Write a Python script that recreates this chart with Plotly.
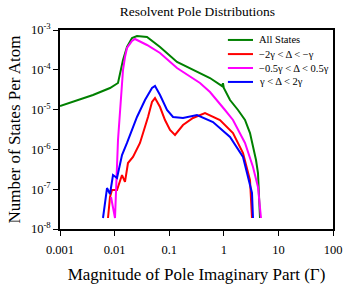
import plotly.graph_objects as go

# All States (green)
green_x = [0.001, 0.00402, 0.00824, 0.01154, 0.01425, 0.01687, 0.02083, 0.0257, 0.0392, 0.0679,
           0.139, 0.273, 0.558, 0.93, 0.966, 1.0, 1.30, 1.82, 2.445, 3.02, 3.426, 3.89, 4.227, 4.41, 4.603]
green_y = [1.23e-5, 2.33e-5, 3.49e-5, 4.66e-5, 1.76e-4, 3.74e-4, 6.29e-4, 7.07e-4, 6.67e-4, 3.74e-4,
           1.57e-4, 9.89e-5, 6.22e-5, 3.9e-5, 4.6e-5, 3.5e-5, 1.74e-5, 9.77e-6, 5.48e-6, 2.58e-6,
           1.15e-6, 5.42e-7, 2.55e-7, 9.55e-8, 1.89e-8]

# -2γ < Δ < -γ (red)
red_x = [0.00757, 0.00824, 0.00896, 0.01107, 0.01367, 0.0155, 0.01758, 0.02172, 0.02917, 0.03606,
         0.04091, 0.04842, 0.05495, 0.06792, 0.08375, 0.1035, 0.1277, 0.179, 0.2729, 0.4529,
         0.8511, 1.473, 2.248, 3.02, 3.283]
red_y = [1.89e-8, 6.37e-8, 9.55e-8, 9.55e-8, 2.27e-7, 1.52e-7, 4.55e-7, 6.44e-7, 1.45e-6, 3.66e-6,
         6.52e-6, 1.55e-5, 1.95e-5, 1.16e-5, 5.48e-6, 3.07e-6, 2.30e-6, 4.10e-6, 6.15e-6, 8.22e-6,
         5.48e-6, 2.58e-6, 8.12e-7, 1.70e-7, 1.89e-8]

# -0.5γ < Δ < 0.5γ (magenta)
mag_x = [0.00859, 0.01017, 0.01154, 0.01367, 0.01425, 0.0155, 0.01687, 0.02083, 0.02364, 0.0392,
         0.0679, 0.139, 0.2729, 0.3664, 0.5585, 0.7499, 1.051, 1.473, 2.445, 3.426, 4.227, 4.80]
mag_y = [6.37e-8, 1.89e-8, 1.72e-6, 3.70e-5, 9.89e-5, 2.10e-4, 3.53e-4, 5.29e-4, 5.94e-4, 4.20e-4,
         2.64e-4, 1.11e-4, 6.22e-5, 4.66e-5, 2.77e-5, 1.74e-5, 9.77e-6, 5.48e-6, 1.45e-6, 3.61e-7,
         1.14e-7, 1.89e-8]

# γ < Δ < 2γ (blue)
blue_x = [0.00613, 0.00726, 0.00824, 0.00935, 0.01107, 0.01367, 0.01687, 0.02083, 0.0257, 0.03606,
          0.04842, 0.05495, 0.06792, 0.0912, 0.1175, 0.179, 0.3228, 0.6339, 1.30, 2.248, 2.775,
          3.283, 3.426]
blue_y = [1.89e-8, 1.07e-7, 7.57e-8, 2.27e-7, 1.91e-7, 7.23e-7, 1.45e-6, 3.07e-6, 6.52e-6, 1.74e-5,
          3.49e-5, 3.92e-5, 2.33e-5, 9.77e-6, 6.52e-6, 6.15e-6, 7.31e-6, 4.88e-6, 2.05e-6, 6.44e-7,
          2.03e-7, 8.03e-8, 1.89e-8]

names = ["All States", "\u22122\u03b3 < \u0394 < \u2212\u03b3",
         "\u22120.5\u03b3 < \u0394 < 0.5\u03b3", "\u03b3 < \u0394 < 2\u03b3"]
colors = ["#008000", "#ff0000", "#ff00ff", "#0000ff"]

x_tickvals = [0.001, 0.01, 0.1, 1, 10, 100]
x_ticktext = ["0.001", "0.01", "0.1", "1", "10", "100"]
y_tickvals = [1e-8, 1e-7, 1e-6, 1e-5, 1e-4, 1e-3]
y_ticktext = ["10<sup>-8</sup>", "10<sup>-7</sup>", "10<sup>-6</sup>", "10<sup>-5</sup>",
              "10<sup>-4</sup>", "10<sup>-3</sup>"]

FAM = "Liberation Serif"

fig = go.Figure()
for xs, ys, nm, c in zip([green_x, red_x, mag_x, blue_x], [green_y, red_y, mag_y, blue_y], names, colors):
    fig.add_trace(go.Scatter(x=xs, y=ys, mode="lines", name=nm, showlegend=False,
                             line=dict(color=c, width=2)))

# compact legend (paper coordinates)
leg_rows = [0.950, 0.879, 0.809, 0.739]
for nm, c, yy in zip(names, colors, leg_rows):
    fig.add_shape(type="line", xref="paper", yref="paper", x0=0.615, x1=0.707, y0=yy, y1=yy,
                  line=dict(color=c, width=2))
    fig.add_annotation(xref="paper", yref="paper", x=0.722, y=yy, text=nm, showarrow=False,
                       xanchor="left", yanchor="middle",
                       font=dict(family=FAM, size=10.5, color="black"))

fig.update_layout(
    width=350, height=284,
    margin=dict(l=60, r=17, t=30, b=55, autoexpand=False),
    paper_bgcolor="white", plot_bgcolor="white",
    font=dict(family=FAM, color="black", size=12),
    title=dict(text="Resolvent Pole Distributions", x=0.564, xanchor="center",
               y=0.962, yanchor="middle", font=dict(family=FAM, size=13.5, color="black"),
               automargin=False),
    showlegend=False,
)
fig.update_xaxes(type="log", range=[-3, 2], tickvals=x_tickvals, ticktext=x_ticktext,
                 ticks="outside", ticklen=5, tickcolor="black", showline=True, linecolor="black",
                 linewidth=1.5, mirror=True, showgrid=False, zeroline=False, automargin=False,
                 ticklabelstandoff=3,
                 title=dict(text="Magnitude of Pole Imaginary Part (\u0393)",
                            font=dict(family=FAM, size=17, color="black"), standoff=12),
                 tickfont=dict(family=FAM, size=12.5, color="black"))
fig.update_yaxes(type="log", range=[-8, -3], tickvals=y_tickvals, ticktext=y_ticktext,
                 ticks="outside", ticklen=5, tickcolor="black", showline=True, linecolor="black",
                 linewidth=1.5, mirror=True, showgrid=False, zeroline=False, automargin=False,
                 title=dict(text="Number of States Per Atom",
                            font=dict(family=FAM, size=17, color="black"), standoff=6),
                 tickfont=dict(family=FAM, size=12.5, color="black"))

fig.write_html("out.html", config={"displayModeBar": False},
               post_script="document.body.style.margin='0';")
